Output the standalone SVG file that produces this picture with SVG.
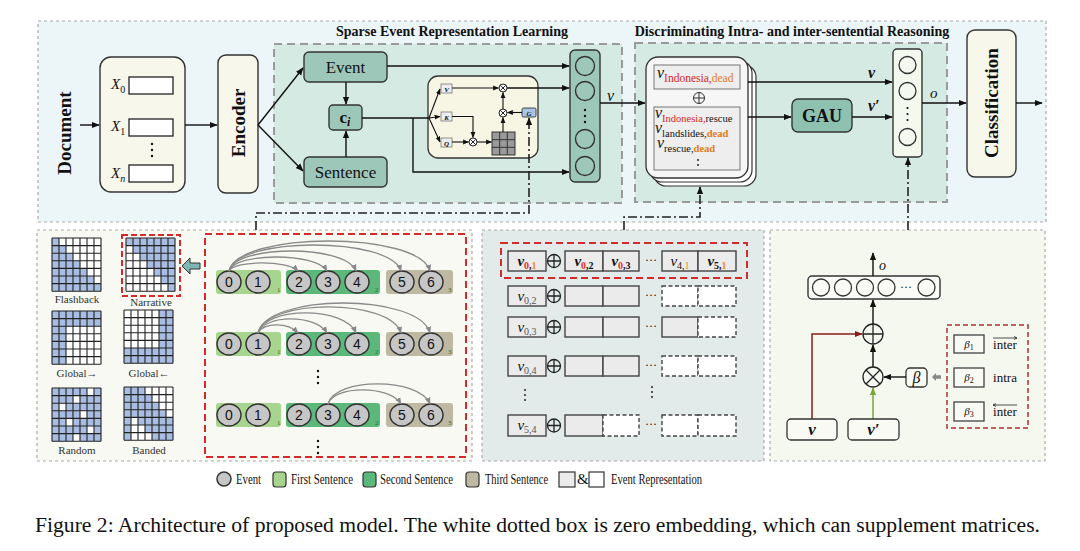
<svg xmlns="http://www.w3.org/2000/svg" width="1080" height="551" viewBox="0 0 1080 551">
<style>
text{font-family:"Liberation Serif","Times New Roman",serif;fill:#111}
.ln{stroke:#111;stroke-width:1.4;fill:none}
.lna{stroke:#111;stroke-width:1.4;fill:none;marker-end:url(#a)}
.lns{stroke:#111;stroke-width:1.1;fill:none;marker-end:url(#as)}
.dd{stroke:#222;stroke-width:1.6;fill:none;stroke-dasharray:9,3,2,3}
.teal{fill:#9dc8b9;stroke:#333;stroke-width:1.4}
.ivory{fill:#f7f7ec;stroke:#333;stroke-width:1.4}
.rt{font-weight:bold;font-size:19px;text-anchor:middle}
.ev{fill:#c6c6c6;stroke:#333;stroke-width:1.5}
.num{font-family:"Liberation Sans",Arial,sans-serif;font-size:14px;text-anchor:middle}
.arc{stroke:#8a8a8a;stroke-width:1.3;fill:none;marker-end:url(#ag)}
.g1{fill:#a7d48f}.g2{fill:#5cb87a}.g3{fill:#bdb9a3}
.gb{fill:#ebebeb;stroke:#444;stroke-width:1.4}
.wb{fill:#fff;stroke:#444;stroke-width:1.4;stroke-dasharray:4,2.5}
.blue{fill:#a9bde2}
.grid{stroke:#222;stroke-width:1.1;fill:none;vector-effect:non-scaling-stroke}
.ml{font-size:11px;text-anchor:middle;fill:#333}
.lg{font-size:15px}
.sub7{font-size:7px;fill:#2d6a2d}
.reg{fill:#d6eae4;stroke:#9a9a9a;stroke-width:2;stroke-dasharray:8,5}
.pan{stroke:#aaa;stroke-width:1.2;stroke-dasharray:3,3}
.vi{font-style:italic}
</style>
<defs>
<marker id="a" viewBox="0 0 10 10" refX="9" refY="5" markerWidth="8" markerHeight="8" markerUnits="userSpaceOnUse" orient="auto"><path d="M0,1L10,5L0,9z" fill="#111"/></marker>
<marker id="as" viewBox="0 0 10 10" refX="9" refY="5" markerWidth="6" markerHeight="6" markerUnits="userSpaceOnUse" orient="auto"><path d="M0,1L10,5L0,9z" fill="#111"/></marker>
<marker id="ag" viewBox="0 0 10 10" refX="9" refY="5" markerWidth="7" markerHeight="7" markerUnits="userSpaceOnUse" orient="auto"><path d="M0,1L10,5L0,9z" fill="#888"/></marker>
<marker id="ar" viewBox="0 0 10 10" refX="9" refY="5" markerWidth="8" markerHeight="8" markerUnits="userSpaceOnUse" orient="auto"><path d="M0,1L10,5L0,9z" fill="#8b1c1c"/></marker>
<marker id="agr" viewBox="0 0 10 10" refX="9" refY="5" markerWidth="8" markerHeight="8" markerUnits="userSpaceOnUse" orient="auto"><path d="M0,1L10,5L0,9z" fill="#74a83a"/></marker>
<g id="ox"><circle r="4" fill="#fff" stroke="#222" stroke-width="1"/><path d="M-2.8,-2.8L2.8,2.8M-2.8,2.8L2.8,-2.8" stroke="#222" stroke-width="1"/></g>
<g id="op"><circle r="6.5" fill="none" stroke="#222" stroke-width="1.3"/><path d="M-6.5,0H6.5M0,-6.5V6.5" stroke="#222" stroke-width="1.3"/></g>
<path id="gridp" class="grid" d="M0,0V7M1,0V7M2,0V7M3,0V7M4,0V7M5,0V7M6,0V7M7,0V7M0,0H7M0,1H7M0,2H7M0,3H7M0,4H7M0,5H7M0,6H7M0,7H7"/>
</defs>

<!-- panels -->
<rect x="38" y="21" width="1008" height="201" fill="#ecf5f8" class="pan"/>
<rect x="37" y="230" width="435" height="231" fill="#f7f9f2" class="pan"/>
<rect x="482" y="230" width="282" height="231" fill="#e3ebea" class="pan"/>
<rect x="770" y="230" width="275" height="231" fill="#f5f8ef" class="pan"/>
<rect x="274" y="44" width="348" height="159" class="reg"/>
<rect x="635" y="43" width="312" height="159" class="reg"/>
<text x="452" y="36" font-size="14" font-weight="bold" text-anchor="middle">Sparse Event Representation Learning</text>
<text x="792" y="36" font-size="14" font-weight="bold" text-anchor="middle">Discriminating Intra- and inter-sentential Reasoning</text>

<g id="document"><text class="rt" transform="translate(71,133) rotate(-90)">Document</text></g>

<g id="inputs">
<rect x="100" y="57" width="85" height="135" rx="11" class="ivory"/>
<text x="111" y="89" font-size="15" class="vi">X<tspan dy="4" font-size="10" font-style="normal">0</tspan></text>
<rect x="129" y="77" width="44" height="17" fill="#fff" stroke="#222" stroke-width="1.3"/>
<text x="111" y="131" font-size="15" class="vi">X<tspan dy="4" font-size="10" font-style="normal">1</tspan></text>
<rect x="129" y="119" width="44" height="17" fill="#fff" stroke="#222" stroke-width="1.3"/>
<circle cx="152" cy="144" r="1.2" fill="#111"/><circle cx="152" cy="150" r="1.2" fill="#111"/><circle cx="152" cy="156" r="1.2" fill="#111"/>
<text x="111" y="178" font-size="15" class="vi">X<tspan dy="4" font-size="10">n</tspan></text>
<rect x="129" y="165" width="44" height="17" fill="#fff" stroke="#222" stroke-width="1.3"/>
</g>

<g id="encoder">
<rect x="218" y="55" width="40" height="138" rx="8" class="ivory"/>
<text class="rt" transform="translate(244.5,123) rotate(-90)">Encoder</text>
</g>

<g id="event"><rect x="304" y="52" width="83" height="30" rx="5" class="teal"/><text x="345.5" y="73" font-size="17" text-anchor="middle">Event</text></g>
<g id="sentence"><rect x="304" y="157" width="83" height="30" rx="5" class="teal"/><text x="345.5" y="178" font-size="17" text-anchor="middle">Sentence</text></g>
<g id="ci"><rect x="329" y="105" width="33" height="25" rx="4" class="teal"/><text x="345" y="123" font-size="17" text-anchor="middle" font-weight="bold">c<tspan dy="3" font-size="12" font-style="italic">i</tspan></text></g>

<g id="attention">
<rect x="428" y="76" width="110" height="82" rx="10" fill="#f7f6e4" stroke="#333" stroke-width="1.3"/>
<rect x="441" y="84" width="11" height="9" fill="#eee" stroke="#777" stroke-width="0.8"/><text x="446.5" y="91.5" font-size="7" font-weight="bold" font-style="italic" text-anchor="middle">V</text>
<rect x="441" y="112" width="11" height="9" fill="#eee" stroke="#777" stroke-width="0.8"/><text x="446.5" y="119.5" font-size="7" font-weight="bold" font-style="italic" text-anchor="middle">K</text>
<rect x="441" y="138" width="11" height="9" fill="#eee" stroke="#777" stroke-width="0.8"/><text x="446.5" y="145.5" font-size="7" font-weight="bold" font-style="italic" text-anchor="middle">Q</text>
<rect x="522" y="108" width="14" height="9" rx="1.5" fill="#a9c4e6" stroke="#333" stroke-width="0.9"/><text x="529" y="115.5" font-size="7" font-weight="bold" font-style="italic" text-anchor="middle">G</text>
<rect x="492" y="132" width="23" height="23" fill="#9a9a9a" stroke="#333" stroke-width="1"/>
<path d="M499.7,132V155M507.3,132V155M492,139.7H515M492,147.3H515" stroke="#333" stroke-width="1"/>
<use href="#ox" x="503" y="88"/><use href="#ox" x="503" y="113"/><use href="#ox" x="473" y="142"/>
</g>

<g id="vvec">
<rect x="570" y="50" width="30" height="132" rx="5" class="teal"/>
<circle cx="585" cy="66" r="9.5" class="teal"/><circle cx="585" cy="91" r="9.5" class="teal"/>
<circle cx="585" cy="110" r="1.2" fill="#111"/><circle cx="585" cy="116" r="1.2" fill="#111"/><circle cx="585" cy="122" r="1.2" fill="#111"/>
<circle cx="585" cy="139" r="9.5" class="teal"/><circle cx="585" cy="166" r="9.5" class="teal"/>
</g>

<g id="stack">
<rect x="654" y="65" width="102" height="121" rx="12" fill="#fff" stroke="#333" stroke-width="1.2"/>
<rect x="650" y="61" width="102" height="121" rx="12" fill="#fff" stroke="#333" stroke-width="1.2"/>
<rect x="646" y="57" width="102" height="121" rx="12" fill="#f6f6f6" stroke="#333" stroke-width="1.3"/>
<rect x="654" y="65" width="86" height="24" fill="#eee" stroke="#777" stroke-width="1"/>
<text x="657" y="78" font-size="16" class="vi">v<tspan dy="4" font-size="11.5" font-style="normal" fill="#d62728">Indonesia,</tspan><tspan font-size="11.5" font-style="normal" fill="#e07b20">dead</tspan></text>
<circle cx="699" cy="98" r="5.5" fill="none" stroke="#333" stroke-width="1"/><path d="M693.5,98H704.5M699,92.5V103.5" stroke="#333" stroke-width="1"/>
<rect x="654" y="107" width="86" height="63" fill="#eee" stroke="#777" stroke-width="1"/>
<text x="655" y="118" font-size="16" class="vi">v<tspan dy="4" font-size="10.5" font-style="normal" fill="#d62728">Indonesia,</tspan><tspan font-size="10.5" font-style="normal">rescue</tspan></text>
<text x="655" y="133" font-size="16" class="vi">v<tspan dy="4" font-size="10.5" font-style="normal">landslides,</tspan><tspan font-size="10.5" font-style="normal" font-weight="bold" fill="#e07b20">dead</tspan></text>
<text x="657" y="148" font-size="16" class="vi">v<tspan dy="4" font-size="10.5" font-style="normal">rescue,</tspan><tspan font-size="10.5" font-style="normal" font-weight="bold" fill="#e07b20">dead</tspan></text>
<circle cx="698" cy="160" r="0.9" fill="#111"/><circle cx="698" cy="165" r="0.9" fill="#111"/>
</g>

<g id="gau"><rect x="792" y="99" width="60" height="33" rx="6" fill="#8fc1b1" stroke="#333" stroke-width="1.4"/><text x="822" y="122" font-size="18" font-weight="bold" text-anchor="middle">GAU</text></g>

<g id="ovec">
<rect x="893" y="49" width="29" height="108" rx="4" fill="#f3f9ee" stroke="#333" stroke-width="1.4"/>
<circle cx="907.5" cy="65" r="8.5" fill="#f3f9ee" stroke="#333" stroke-width="1.3"/><circle cx="907.5" cy="91" r="8.5" fill="#f3f9ee" stroke="#333" stroke-width="1.3"/>
<circle cx="907.5" cy="108" r="1.1" fill="#111"/><circle cx="907.5" cy="114" r="1.1" fill="#111"/><circle cx="907.5" cy="120" r="1.1" fill="#111"/>
<circle cx="907.5" cy="137" r="8.5" fill="#f3f9ee" stroke="#333" stroke-width="1.3"/>
</g>

<g id="classification">
<rect x="967" y="30" width="49" height="147" rx="8" class="ivory"/>
<text class="rt" transform="translate(998,103) rotate(-90)">Classification</text>
</g>

<g id="connectors">
<path class="lna" d="M80,125H99"/>
<path class="lna" d="M185,125H217"/>
<path class="lna" d="M258,125L303,68"/>
<path class="lna" d="M258,125L303,171"/>
<path class="lna" d="M346,82V104"/>
<path class="lna" d="M346,157V131"/>
<path class="lna" d="M387,66H569"/>
<path class="ln" d="M362,118H429"/>
<path class="lna" d="M413,118V172H569"/>
<path class="lns" d="M429,118L440,89"/>
<path class="lns" d="M429,118L440,116.5"/>
<path class="lns" d="M429,118L440,142"/>
<path class="lns" d="M452,88H498.5"/>
<path class="lna" d="M507,88H569"/>
<path class="lns" d="M452,116.5H473V137.5"/>
<path class="lns" d="M452,142H468.5"/>
<path class="lns" d="M477,142H491.5"/>
<path class="lns" d="M503,132V117.5"/>
<path class="lns" d="M503,109V92.5"/>
<path class="lns" d="M522,112.5H507.5"/>
<path class="lna" d="M600,103H645"/>
<path class="lna" d="M748,82H892"/>
<path class="lna" d="M748,117H791"/>
<path class="lna" d="M852,117H892"/>
<path class="lna" d="M922,103H966"/>
<path class="lna" d="M1016,103H1042"/>
<path class="dd" d="M256,230V213H529V122"/><path class="lna" d="M529,124V118"/>
<path class="dd" d="M624,230V217H700V192"/><path class="lna" d="M700,193V187"/>
<path class="dd" d="M908,230V164"/><path class="lna" d="M908,165V158"/>
</g>
<text x="607" y="101" font-size="16" class="vi">v</text>
<text x="868" y="78" font-size="16" class="vi" font-weight="bold">v</text>
<text x="868" y="111" font-size="16" class="vi" font-weight="bold">v′</text>
<text x="930" y="98" font-size="15" class="vi">o</text>

<!-- matrices -->
<g id="flashback" transform="translate(52,238) scale(7,7.6)">
<rect width="7" height="7" fill="#fff"/>
<path class="blue" d="M0,0h1v1h-1zM0,1h2v1h-2zM0,2h3v1h-3zM0,3h4v1h-4zM0,4h5v1h-5zM0,5h6v1h-6zM0,6h7v1h-7z"/>
<use href="#gridp"/></g>
<g id="narrative" transform="translate(126,238) scale(7,7.6)">
<rect width="7" height="7" fill="#fff"/>
<path class="blue" d="M0,0h7v1h-7zM1,1h6v1h-6zM2,2h5v1h-5zM3,3h4v1h-4zM4,4h3v1h-3zM5,5h2v1h-2zM6,6h1v1h-1z"/>
<use href="#gridp"/></g>
<g id="global-r" transform="translate(52,311) scale(7,7.6)">
<rect width="7" height="7" fill="#fff"/>
<path class="blue" d="M0,0h7v2h-7zM0,2h2v5h-2z"/>
<use href="#gridp"/></g>
<g id="global-l" transform="translate(124,310) scale(7,7.6)">
<rect width="7" height="7" fill="#fff"/>
<path class="blue" d="M5,0h2v7h-2zM0,5h5v2h-5z"/>
<use href="#gridp"/></g>
<g id="random" transform="translate(52,388) scale(7,7.6)">
<rect width="7" height="7" class="blue"/>
<path fill="#fff" d="M5,0h1v1h-1zM3,1h1v1h-1zM1,2h1v1h-1zM4,3h1v1h-1zM2,4h1v1h-1zM5,5h1v1h-1zM3,6h1v1h-1z"/>
<use href="#gridp"/></g>
<g id="banded" transform="translate(124,387) scale(7,7.6)">
<rect width="7" height="7" fill="#fff"/>
<path class="blue" d="M0,0h3v1h-3zM0,1h4v1h-4zM0,2h5v1h-5zM0,3h6v1h-6zM2,4h5v1h-5zM0,4h1v1h-1zM3,5h4v1h-4zM0,5h1v1h-1zM4,6h3v1h-3zM0,6h1v1h-1z"/>
<use href="#gridp"/></g>
<rect x="122" y="235" width="58" height="61" fill="none" stroke="#d62a2a" stroke-width="2" stroke-dasharray="6,3"/>
<text x="77" y="303" class="ml">Flashback</text>
<text x="151" y="306" class="ml">Narrative</text>
<text x="77" y="377" class="ml">Global→</text>
<text x="149" y="377" class="ml">Global←</text>
<text x="77" y="454" class="ml">Random</text>
<text x="149" y="454" class="ml">Banded</text>
<polygon points="182,266 190,258 190,263 200,263 200,269 190,269 190,274" fill="#7fb6b4" stroke="#333" stroke-width="1"/>

<!-- event graph -->
<rect x="205" y="234" width="261" height="223" fill="none" stroke="#d62a2a" stroke-width="2" stroke-dasharray="7,4"/>
<g id="graph-row1">
<rect x="216" y="270" width="65" height="24" rx="3" class="g1"/><rect x="286" y="270" width="94" height="24" rx="3" class="g2"/><rect x="386" y="270" width="67" height="24" rx="3" class="g3"/>
<text x="277" y="292" class="sub7">1</text><text x="375" y="292" class="sub7">2</text><text x="448" y="292" class="sub7">3</text>
<ellipse cx="229" cy="282" rx="12" ry="11" class="ev"/><ellipse cx="258" cy="282" rx="12" ry="11" class="ev"/><ellipse cx="299" cy="282" rx="12" ry="11" class="ev"/><ellipse cx="328" cy="282" rx="12" ry="11" class="ev"/><ellipse cx="357" cy="282" rx="12" ry="11" class="ev"/><ellipse cx="402" cy="282" rx="12" ry="11" class="ev"/><ellipse cx="431" cy="282" rx="12" ry="11" class="ev"/>
<text x="229" y="287" class="num">0</text><text x="258" y="287" class="num">1</text><text x="299" y="287" class="num">2</text><text x="328" y="287" class="num">3</text><text x="357" y="287" class="num">4</text><text x="402" y="287" class="num">5</text><text x="431" y="287" class="num">6</text>
</g>
<g id="graph-row2">
<rect x="216" y="332" width="65" height="24" rx="3" class="g1"/><rect x="286" y="332" width="94" height="24" rx="3" class="g2"/><rect x="386" y="332" width="67" height="24" rx="3" class="g3"/>
<text x="277" y="354" class="sub7">1</text><text x="375" y="354" class="sub7">2</text><text x="448" y="354" class="sub7">3</text>
<ellipse cx="229" cy="344" rx="12" ry="11" class="ev"/><ellipse cx="258" cy="344" rx="12" ry="11" class="ev"/><ellipse cx="299" cy="344" rx="12" ry="11" class="ev"/><ellipse cx="328" cy="344" rx="12" ry="11" class="ev"/><ellipse cx="357" cy="344" rx="12" ry="11" class="ev"/><ellipse cx="402" cy="344" rx="12" ry="11" class="ev"/><ellipse cx="431" cy="344" rx="12" ry="11" class="ev"/>
<text x="229" y="349" class="num">0</text><text x="258" y="349" class="num">1</text><text x="299" y="349" class="num">2</text><text x="328" y="349" class="num">3</text><text x="357" y="349" class="num">4</text><text x="402" y="349" class="num">5</text><text x="431" y="349" class="num">6</text>
</g>
<g id="graph-row3">
<rect x="216" y="403" width="65" height="24" rx="3" class="g1"/><rect x="286" y="403" width="94" height="24" rx="3" class="g2"/><rect x="386" y="403" width="67" height="24" rx="3" class="g3"/>
<text x="277" y="425" class="sub7">1</text><text x="375" y="425" class="sub7">2</text><text x="448" y="425" class="sub7">3</text>
<ellipse cx="229" cy="415" rx="12" ry="11" class="ev"/><ellipse cx="258" cy="415" rx="12" ry="11" class="ev"/><ellipse cx="299" cy="415" rx="12" ry="11" class="ev"/><ellipse cx="328" cy="415" rx="12" ry="11" class="ev"/><ellipse cx="357" cy="415" rx="12" ry="11" class="ev"/><ellipse cx="402" cy="415" rx="12" ry="11" class="ev"/><ellipse cx="431" cy="415" rx="12" ry="11" class="ev"/>
<text x="229" y="420" class="num">0</text><text x="258" y="420" class="num">1</text><text x="299" y="420" class="num">2</text><text x="328" y="420" class="num">3</text><text x="357" y="420" class="num">4</text><text x="402" y="420" class="num">5</text><text x="431" y="420" class="num">6</text>
</g>
<g id="graph-arcs">
<path class="arc" d="M229,271C235,260.3 288,260.3 298,271"/>
<path class="arc" d="M229,271C235,252.3 316,252.3 327,271"/>
<path class="arc" d="M229,271C236,244.3 345,244.3 356,271"/>
<path class="arc" d="M229,271C237,236.3 390,236.3 401,271"/>
<path class="arc" d="M229,271C238,231 419,231 430,271"/>
<path class="arc" d="M258,333C264,322.3 288,322.3 298,333"/>
<path class="arc" d="M258,333C264,314.3 316,314.3 327,333"/>
<path class="arc" d="M258,333C265,306.3 345,306.3 356,333"/>
<path class="arc" d="M258,333C266,298.3 390,298.3 401,333"/>
<path class="arc" d="M258,333C267,293 419,293 430,333"/>
<path class="arc" d="M328,404C334,385.3 390,385.3 401,404"/>
<path class="arc" d="M328,404C335,377.3 419,377.3 430,404"/>
</g>
<circle cx="318" cy="371" r="1.2" fill="#111"/><circle cx="318" cy="377" r="1.2" fill="#111"/><circle cx="318" cy="383" r="1.2" fill="#111"/>
<circle cx="318" cy="441" r="1.2" fill="#111"/><circle cx="318" cy="447" r="1.2" fill="#111"/><circle cx="318" cy="453" r="1.2" fill="#111"/>

<!-- middle panel -->
<g id="concat">
<rect x="501" y="243" width="246" height="35" fill="none" stroke="#d62a2a" stroke-width="2" stroke-dasharray="7,4"/>
<rect x="508" y="251" width="38" height="20" class="gb"/><use href="#op" x="554" y="261"/>
<rect x="565" y="251" width="38" height="20" class="gb"/><rect x="603" y="251" width="36" height="20" class="gb"/>
<rect x="662" y="251" width="36" height="20" class="gb"/><rect x="698" y="251" width="38" height="20" class="gb"/>
<text x="527" y="266" font-size="15" font-weight="bold" class="vi" text-anchor="middle">v<tspan dy="3" font-size="10" font-style="normal"><tspan fill="#e63228">0</tspan>,<tspan fill="#f08a24">1</tspan></tspan></text>
<text x="584" y="266" font-size="15" font-weight="bold" class="vi" text-anchor="middle">v<tspan dy="3" font-size="10" font-style="normal"><tspan fill="#e63228">0</tspan>,2</tspan></text>
<text x="621" y="266" font-size="15" font-weight="bold" class="vi" text-anchor="middle">v<tspan dy="3" font-size="10" font-style="normal"><tspan fill="#e63228">0</tspan>,3</tspan></text>
<text x="680" y="266" font-size="15" class="vi" text-anchor="middle">v<tspan dy="3" font-size="10" font-style="normal">4,<tspan fill="#f08a24">1</tspan></tspan></text>
<text x="717" y="266" font-size="15" font-weight="bold" class="vi" text-anchor="middle">v<tspan dy="3" font-size="10" font-style="normal">5,<tspan fill="#f08a24">1</tspan></tspan></text>
<text x="651" y="264" font-size="12" text-anchor="middle">···</text>

<rect x="508" y="286" width="38" height="20" class="gb"/><use href="#op" x="554" y="296"/>
<rect x="565" y="286" width="38" height="20" class="gb"/><rect x="603" y="286" width="36" height="20" class="gb"/>
<rect x="662" y="286" width="36" height="20" class="wb"/><rect x="698" y="286" width="38" height="20" class="wb"/>
<text x="527" y="301" font-size="15" class="vi" text-anchor="middle" fill="#555">v<tspan dy="3" font-size="10" font-style="normal" fill="#555">0,2</tspan></text>
<text x="651" y="299" font-size="12" text-anchor="middle">···</text>

<rect x="508" y="317" width="38" height="20" class="gb"/><use href="#op" x="554" y="327"/>
<rect x="565" y="317" width="38" height="20" class="gb"/><rect x="603" y="317" width="36" height="20" class="gb"/>
<rect x="662" y="317" width="36" height="20" class="gb"/><rect x="698" y="317" width="38" height="20" class="wb"/>
<text x="527" y="332" font-size="15" class="vi" text-anchor="middle" fill="#555">v<tspan dy="3" font-size="10" font-style="normal" fill="#555">0,3</tspan></text>
<text x="651" y="330" font-size="12" text-anchor="middle">···</text>

<rect x="508" y="356" width="38" height="20" class="gb"/><use href="#op" x="554" y="366"/>
<rect x="565" y="356" width="38" height="20" class="gb"/><rect x="603" y="356" width="36" height="20" class="gb"/>
<rect x="662" y="356" width="36" height="20" class="wb"/><rect x="698" y="356" width="38" height="20" class="wb"/>
<text x="527" y="371" font-size="15" class="vi" text-anchor="middle" fill="#555">v<tspan dy="3" font-size="10" font-style="normal" fill="#555">0,4</tspan></text>
<text x="651" y="369" font-size="12" text-anchor="middle">···</text>

<circle cx="525" cy="390" r="0.9" fill="#111"/><circle cx="525" cy="395" r="0.9" fill="#111"/><circle cx="525" cy="400" r="0.9" fill="#111"/>
<circle cx="652" cy="387" r="0.9" fill="#111"/><circle cx="652" cy="392" r="0.9" fill="#111"/><circle cx="652" cy="397" r="0.9" fill="#111"/>

<rect x="508" y="415" width="38" height="21" class="gb"/><use href="#op" x="554" y="425.5"/>
<rect x="565" y="415" width="38" height="21" class="gb"/><rect x="603" y="415" width="36" height="21" class="wb"/>
<rect x="662" y="415" width="36" height="21" class="wb"/><rect x="698" y="415" width="38" height="21" class="wb"/>
<text x="527" y="430" font-size="15" class="vi" text-anchor="middle" fill="#555">v<tspan dy="3" font-size="10" font-style="normal" fill="#555">5,4</tspan></text>
<text x="651" y="428" font-size="12" text-anchor="middle">···</text>
</g>

<!-- right panel -->
<g id="gau-detail">
<rect x="808" y="276" width="132" height="23" rx="4" fill="#fafbf7" stroke="#333" stroke-width="1.4"/>
<circle cx="821" cy="287.5" r="8.5" fill="none" stroke="#333" stroke-width="1.3"/><circle cx="843" cy="287.5" r="8.5" fill="none" stroke="#333" stroke-width="1.3"/><circle cx="865" cy="287.5" r="8.5" fill="none" stroke="#333" stroke-width="1.3"/><circle cx="886.5" cy="287.5" r="8.5" fill="none" stroke="#333" stroke-width="1.3"/><circle cx="926.5" cy="287.5" r="8.5" fill="none" stroke="#333" stroke-width="1.3"/>
<text x="906" y="291" font-size="12" text-anchor="middle">···</text>
<path class="lna" d="M873,276V253"/>
<text x="879" y="270" font-size="14" class="vi">o</text>
<circle cx="873" cy="334" r="10" fill="none" stroke="#222" stroke-width="1.3"/><path d="M863,334H883M873,324V344" stroke="#222" stroke-width="1.3"/>
<path class="lna" d="M873,324V300"/>
<circle cx="873" cy="377" r="10" fill="none" stroke="#222" stroke-width="1.3"/><path d="M866,370L880,384M866,384L880,370" stroke="#222" stroke-width="1.3"/>
<path class="lna" d="M873,367V345"/>
<rect x="906" y="368" width="21" height="19" rx="4" fill="#fafaf5" stroke="#333" stroke-width="1.3"/>
<text x="916.5" y="382.5" font-size="16" class="vi" text-anchor="middle">β</text>
<path class="lna" d="M906,377H884"/>
<polygon points="932,377 936,373 936,375.3 941,375.3 941,378.7 936,378.7 936,381" fill="#888"/>
<path d="M812,419V334H862" fill="none" stroke="#8b1c1c" stroke-width="1.5" marker-end="url(#ar)"/>
<path d="M873,419V388" fill="none" stroke="#74a83a" stroke-width="1.5" marker-end="url(#agr)"/>
<rect x="787" y="419" width="50" height="21" rx="4" fill="#fafaf5" stroke="#333" stroke-width="1.3"/>
<text x="812" y="435" font-size="17" font-weight="bold" class="vi" text-anchor="middle" fill="#8b1c1c">v</text>
<rect x="848" y="419" width="51" height="21" rx="4" fill="#fafaf5" stroke="#333" stroke-width="1.3"/>
<text x="873.5" y="435" font-size="17" font-weight="bold" class="vi" text-anchor="middle" fill="#6aa330">v′</text>
<rect x="947" y="325" width="81" height="103" fill="none" stroke="#a83232" stroke-width="1.5" stroke-dasharray="5,3"/>
<rect x="954" y="335" width="30" height="18" fill="#fafaf5" stroke="#333" stroke-width="1.2"/>
<text x="969" y="348" font-size="11" class="vi" text-anchor="middle" fill="#444">β<tspan dy="2" font-size="8" font-style="normal">1</tspan></text>
<rect x="954" y="368" width="30" height="19" fill="#fafaf5" stroke="#333" stroke-width="1.2"/>
<text x="969" y="381" font-size="11" class="vi" text-anchor="middle" fill="#444">β<tspan dy="2" font-size="8" font-style="normal">2</tspan></text>
<rect x="954" y="402" width="30" height="19" fill="#fafaf5" stroke="#333" stroke-width="1.2"/>
<text x="969" y="415" font-size="11" class="vi" text-anchor="middle" fill="#444">β<tspan dy="2" font-size="8" font-style="normal">3</tspan></text>
<text x="1005" y="349" font-size="13" text-anchor="middle">inter</text>
<path d="M993,338H1017M1014,336.5L1017,338L1014,339.5" fill="none" stroke="#222" stroke-width="0.8"/>
<text x="1005" y="382" font-size="13" text-anchor="middle">intra</text>
<text x="1005" y="416" font-size="13" text-anchor="middle">inter</text>
<path d="M993,405H1017M996,403.5L993,405L996,406.5" fill="none" stroke="#222" stroke-width="0.8"/>
</g>

<!-- legend -->
<g id="legend">
<circle cx="224" cy="479" r="7" class="ev"/>
<text x="236" y="484" class="lg" textLength="25" lengthAdjust="spacingAndGlyphs">Event</text>
<rect x="273" y="472" width="13" height="15" rx="3" class="g1" stroke="#333" stroke-width="1.2"/>
<text x="291" y="484" class="lg" textLength="62" lengthAdjust="spacingAndGlyphs">First Sentence</text>
<rect x="363" y="472" width="13" height="15" rx="3" class="g2" stroke="#333" stroke-width="1.2"/>
<text x="380" y="484" class="lg" textLength="73" lengthAdjust="spacingAndGlyphs">Second Sentence</text>
<rect x="466" y="472" width="13" height="15" rx="3" class="g3" stroke="#333" stroke-width="1.2"/>
<text x="485" y="484" class="lg" textLength="63" lengthAdjust="spacingAndGlyphs">Third Sentence</text>
<rect x="559" y="472" width="16" height="15" fill="#ebebeb" stroke="#333" stroke-width="1.2"/>
<text x="577" y="484" class="lg">&amp;</text>
<rect x="589" y="472" width="15" height="15" fill="#fff" stroke="#333" stroke-width="1.2"/>
<text x="611" y="484" class="lg" textLength="91" lengthAdjust="spacingAndGlyphs">Event Representation</text>
</g>

<text x="35" y="532" font-size="20" textLength="1005" lengthAdjust="spacingAndGlyphs">Figure 2: Architecture of proposed model. The white dotted box is zero embedding, which can supplement matrices.</text>
</svg>
